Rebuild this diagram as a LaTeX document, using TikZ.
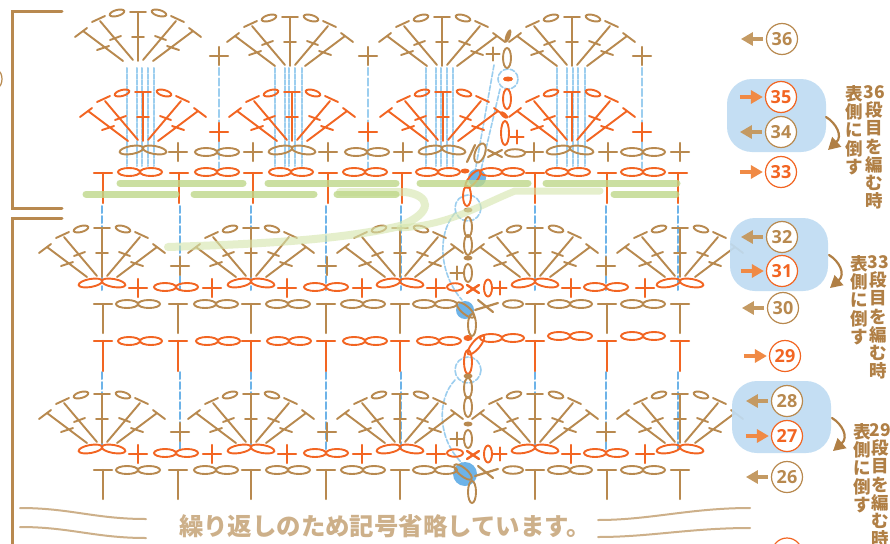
\documentclass[tikz,border=0pt]{standalone}
\usepackage{fontspec}
\setmainfont[BoldFont={Open Sans Bold}]{Open Sans}
\newfontfamily\cjk{Noto Sans CJK JP}
\usetikzlibrary{arrows.meta}
\definecolor{cb}{HTML}{B8894F}
\definecolor{co}{HTML}{F26522}
\definecolor{cd}{HTML}{9CCEEF}
\definecolor{cdd}{HTML}{6DB3E8}
\definecolor{cg}{HTML}{BFD88A}
\definecolor{cl}{HTML}{D6E6AE}
\definecolor{cbox}{HTML}{BFDCF3}
\definecolor{carb}{HTML}{C49A63}
\definecolor{caro}{HTML}{F08A45}
\definecolor{ctx}{HTML}{B07F45}
\definecolor{cpale}{HTML}{CDB08A}
\tikzset{
 brownst/.style={color=cb,line width=1.9pt},
 orangest/.style={color=co,line width=1.9pt},
 dashone/.style={color=cd,line width=2.4pt,dash pattern=on 7pt off 3.5pt},
 dashfive/.style={color=cd,line width=2pt,dash pattern=on 4.5pt off 1.6pt},
 dashmid/.style={color=cdd,line width=2pt,dash pattern=on 7pt off 3pt},
 dashthin/.style={color=cd,line width=1.6pt,dash pattern=on 5pt off 2pt},
 numb/.style={circle,draw=cb,line width=1.2pt,fill=white,text=cb,minimum size=31pt,inner sep=0pt,font=\bfseries\fontsize{18}{18}\selectfont},
 numo/.style={numb,draw=co,text=co},
 arrl/.style={color=carb,line width=4.5pt,line cap=butt,-{Triangle[length=12pt,width=13pt]}},
 arro/.style={color=caro,line width=4.5pt,line cap=butt,-{Triangle[length=12pt,width=13pt]}},
 bluebox/.style={draw=none,fill=cbox,rounded corners=25pt,opacity=.92},
 vtxt/.style={inner sep=0pt,anchor=north,align=center,text=ctx,font=\cjk\bfseries\fontsize{17.5}{18.3}\selectfont},
 curvearr/.style={color=ctx,line width=2.2pt,-{Triangle[length=12pt,width=13pt]}},
 wave/.style={color=cpale,line width=2pt,line cap=round},
}
\def\ovl#1#2#3#4#5{\draw[rotate around={#5:(#1,#2)}] (#1,#2) ellipse [x radius=#3,y radius=#4];}
\def\dotl#1#2#3#4#5{\fill[rotate around={#5:(#1,#2)}] (#1,#2) ellipse [x radius=#3,y radius=#4];}
\def\pls#1#2#3{\draw[line width=2.4pt] (#1-#3,#2)--(#1+#3,#2) (#1,#2-#3)--(#1,#2+#3);}
\def\stT#1#2#3{\draw[line width=2.2pt] (#1-9,#2)--(#1+9,#2) (#1,#2)--(#1,#2+#3);}
\def\pair#1#2{\ovl{#1-11}{#2}{11}{4}{0}\ovl{#1+11}{#2}{11}{4}{0}}
\def\fpair#1#2{\ovl{#1-11.5}{#2}{12}{4}{10}\ovl{#1+11.5}{#2}{12}{4}{-10}}
\def\halffan{%
 \draw (-5,-1)--(-38,-40) (-46,-39)--(-33,-45) (-28,-21)--(-17,-25);
 \draw (-15,0)--(-55,-30) (-63,-24)--(-51,-33) (-41,-11)--(-29,-15);
 \ovl{-21}{-48}{7.5}{3}{15}}
\def\ffan#1#2{\begin{scope}[shift={(#1,#2)}]
 \halffan \begin{scope}[xscale=-1]\halffan\end{scope}
 \draw (0,0)--(0,-49) (-8,-49)--(8,-49) (-6,-24)--(6,-24);
 \end{scope}}
\def\fivedash#1#2#3#4#5{\foreach \xx in {#1,#2,#3,#4,#5} \draw[dashfive] (\xx,68)--(\xx,166);}
\def\midrow{%
 \begin{scope}[brownst]
  \foreach \xx in {102,251,400,535,680} {\ffan{\xx}{277}}
  \foreach \xx in {180,327,606} {\pls{\xx}{266}{9}}
  \foreach \xx in {103,178,251,326,400,535,607,680} {\stT{\xx}{304}{29}}
  \foreach \xx in {138,216,288,363,435,570,643} {\pair{\xx}{304}}
  \ovl{513}{304}{10}{3.8}{0}
 \end{scope}
 \begin{scope}[orangest]
  \foreach \xx in {102,251,400,535,680} {\fpair{\xx}{283}}
  \foreach \xx in {138,212,287,362,436,571,645} {\pls{\xx}{288}{9}}
  \foreach \xx in {176,326,606} {\pair{\xx}{287}}
  \ovl{455}{287}{8}{3.8}{0}
  \draw[line width=2.4pt] (467,285)--(479,293) (467,293)--(479,285);
  \ovl{488}{288}{4}{8.5}{0}
  \pls{500}{288}{6.5}
 \end{scope}
}
\begin{document}
\begin{tikzpicture}[x=1pt,y=-1pt,line cap=round]
\useasboundingbox (0,0) rectangle (890,543);
\clip (0,0) rectangle (890,543);
\fill[white] (0,0) rectangle (890,543);
% brackets
\draw[color=cb,line width=3pt] (62,11.5)--(12,11.5)--(12,208)--(62,208);
\draw[color=cb,line width=3pt] (62,218)--(12.5,218)--(12.5,560);
\draw[color=cb,line width=1.2pt] (-12,79) circle [radius=14];
% blue dashes
\foreach \xx in {219,368,642} \draw[dashone] (\xx,68)--(\xx,168);
\fivedash{127}{137}{142}{148}{154}
\fivedash{275}{285}{289}{295}{302}
\fivedash{426}{436}{441}{447}{453}
\fivedash{557}{567}{573}{578}{585}
\foreach \xx in {102,180,251,326,401,535,606,678} {
 \draw[dashmid] (\xx,206)--(\xx,290);
 \draw[dashmid] (\xx,372)--(\xx,452);
}
\draw[dashthin] (494,65)--(475,172);
\draw[dashthin] (500,89)--(481,170);
\draw[dashthin] (455,213) .. controls (436,235) and (440,275) .. (462,300);
\draw[dashthin] (455,380) .. controls (436,400) and (438,440) .. (462,463);
\draw[dashthin] (508,79) circle [radius=10];
\draw[dashthin] (468,208) circle [radius=13];
\draw[dashthin] (468,370) circle [radius=13];
\fill[cdd] (477,178) circle [radius=9];
\fill[cdd] (465,310) circle [radius=9];
\fill[cdd] (465,474) circle [radius=12];
% top brown row
\begin{scope}[brownst]
 \ffan{138}{61}\ffan{290}{66}\ffan{442}{66}\ffan{572}{66}
 \foreach \xx in {219,368,642} {\pls{\xx}{56}{9}}
 \foreach \xx in {178,253,328,403,534,608,680} {\pls{\xx}{152}{9}}
 \foreach \xx in {217,367,643} {\pair{\xx}{152}}
 \foreach \xx in {143,292,442,570} {\fpair{\xx}{150}}
 \ovl{515}{153}{10}{3.8}{0}
 \ovl{480}{153}{5}{10}{-20}
 \draw[line width=2.2pt] (467,162)--(475,145);
 \draw[line width=2.2pt] (488,150)--(502,157) (488,157)--(502,150);
 \dotl{508}{36}{2.5}{7}{-20}
 \pls{493}{54}{6.5}
 \ovl{507}{58}{4}{10}{0}
\end{scope}
% orange top fans and row
\begin{scope}[orangest]
 \ffan{143}{141}\ffan{292}{141}\ffan{443}{141}\ffan{572}{141}
 \foreach \xx in {219,368,642} {\pls{\xx}{132}{9}}
 \foreach \xx in {103,179,253,328,402,535,607,678} {\stT{\xx}{173}{30}}
 \foreach \xx in {140,217,291,365,438,502,568,643} {\pair{\xx}{172}}
 \dotl{465}{171}{4.5}{2.5}{0}
 \dotl{508}{79}{5}{2.5}{0}
 \ovl{507}{99}{4}{10}{0}
 \dotl{504}{115}{5}{2.5}{-40}
 \ovl{505}{133}{4}{12}{0}
 \pls{517}{137}{6.5}
 \ovl{473}{179}{4}{11}{-40}
 \ovl{467}{196}{4}{10}{0}
\end{scope}
% middle rows
\midrow
\begin{scope}[shift={(0,166)}]\midrow\end{scope}
% orange T row
\begin{scope}[orangest]
 \foreach \xx in {103,178,251,326,400,607,535,680} {\stT{\xx}{341}{30}}
 \foreach \xx in {140,218,289,365,439} {\pair{\xx}{341}}
 \pair{502}{338}\pair{570}{336}\pair{643}{336}
 \dotl{468}{338}{4.5}{3}{0}
 \ovl{476}{345}{4}{12}{-40}
 \ovl{468}{362}{4}{12}{0}
\end{scope}
% centre column
\begin{scope}[brownst]
 \dotl{468}{210}{4.5}{2.5}{0}
 \ovl{468}{227}{4}{10}{0}\ovl{468}{245}{4}{10}{0}
 \dotl{468}{258}{4.5}{2.5}{0}
 \ovl{468}{273}{4}{9}{0}\pls{457}{273}{6.5}
 \ovl{465.5}{310}{11}{4}{-40}
 \draw[line width=2.2pt] (475,310)--(498,303) (478,300)--(493,312);
 \ovl{472}{325}{4}{11}{0}
 \dotl{468}{376}{4.5}{2.5}{0}
 \ovl{468}{388}{4}{10}{0}\ovl{468}{407}{4}{10}{0}
 \dotl{468}{424}{4.5}{2.5}{0}
 \ovl{468}{439}{4}{9}{0}\pls{457}{439}{6.5}
 \ovl{463}{472}{11}{4}{-40}
 \draw[line width=2.2pt] (475,476)--(498,469) (478,466)--(493,478);
 \ovl{472}{492}{4}{11}{0}
\end{scope}
% green bands
\begin{scope}[opacity=.62]
\draw[color=cl,line width=8pt] (340,192)--(405,192) .. controls (430,195) and (435,212) .. (400,226) .. controls (340,240) and (260,244) .. (168,247);
\draw[color=cl,line width=7pt] (600,191)--(515,191) .. controls (480,205) and (450,225) .. (400,228);
\end{scope}
\begin{scope}[opacity=.8,color=cg,line width=7pt]
\draw (120,183)--(243,183) (268,183)--(396,183) (420,183)--(528,183) (546,183)--(677,183);
\draw (86,194)--(176,194) (194,194)--(314,194) (337,194)--(396,194) (614,194)--(676,194);
\end{scope}
% bottom waves and text
\draw[wave] (20,508) .. controls (70,508) and (95,519) .. (146,519);
\draw[wave] (20,527) .. controls (70,527) and (95,538) .. (146,538);
\draw[wave] (598,520) .. controls (650,520) and (690,508) .. (750,508);
\draw[wave] (598,537) .. controls (650,537) and (690,528) .. (750,528);
\node[inner sep=0pt,text=cpale,font=\cjk\bfseries\fontsize{24.4}{24}\selectfont] (note) at (385,526) {繰り返しのため記号省略しています。};
% right side
\node[bluebox,minimum width=99pt,minimum height=73pt] (boxa) at (776.5,115.5) {};
\node[bluebox,minimum width=98pt,minimum height=73pt] (boxb) at (779,254.5) {};
\node[bluebox,minimum width=99pt,minimum height=72pt] (boxc) at (781.5,417) {};
\node[numb] (n36) at (782,39) {36};
\node[numo] (n35) at (781,97) {35};
\node[numb] (n34) at (781,132) {34};
\node[numo] (n33) at (781,172) {33};
\node[numb] (n32) at (782,237) {32};
\node[numo] (n31) at (782,271) {31};
\node[numb] (n30) at (783,308) {30};
\node[numo] (n29) at (785,356) {29};
\node[numb] (n28) at (787,401) {28};
\node[numo] (n27) at (787,436) {27};
\node[numb] (n26) at (787,477) {26};
\draw[color=co,line width=1.2pt] (787,553) circle [radius=15];
\foreach \nn in {36,34,32,30,28,26} \draw[arrl] ([xshift=-3pt]n\nn.west)--([xshift=-25pt]n\nn.west);
\foreach \nn in {35,33,31,29,27} \draw[arro] ([xshift=-25pt]n\nn.west)--([xshift=-2pt]n\nn.west);
\coordinate (ca1) at (826,117); \coordinate (ca2) at (828,150);
\coordinate (cb1) at (829,255); \coordinate (cb2) at (830,288);
\coordinate (cc1) at (832,418); \coordinate (cc2) at (833,451);
\draw[curvearr] (ca1) .. controls (836,123) and (843,136) .. (ca2);
\draw[curvearr] (cb1) .. controls (839,261) and (846,274) .. (cb2);
\draw[curvearr] (cc1) .. controls (842,424) and (849,437) .. (cc2);
\node[vtxt] (ta) at (874,85) {36\\段\\目\\を\\編\\む\\時};
\node[vtxt] (tb) at (854,85) {表\\側\\に\\倒\\す};
\node[vtxt] (tc) at (878,255) {33\\段\\目\\を\\編\\む\\時};
\node[vtxt] (td) at (859,255) {表\\側\\に\\倒\\す};
\node[vtxt] (te) at (880,423) {29\\段\\目\\を\\編\\む\\時};
\node[vtxt] (tf) at (862,423) {表\\側\\に\\倒\\す};
\end{tikzpicture}
\end{document}
